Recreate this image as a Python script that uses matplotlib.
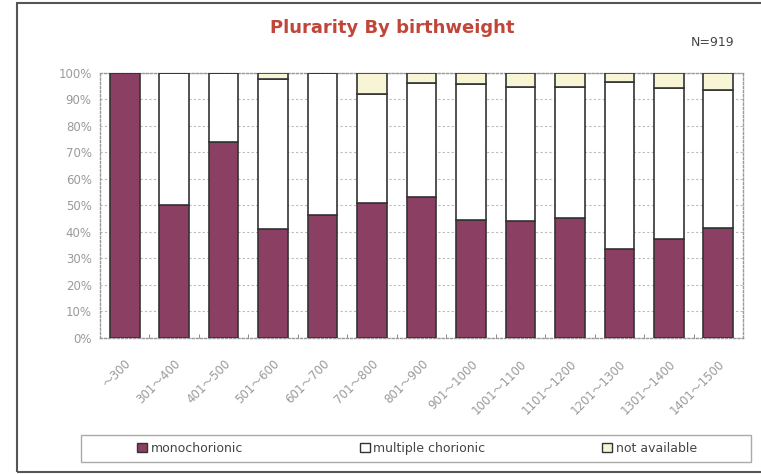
import matplotlib
matplotlib.use('Agg')
import matplotlib.pyplot as plt
from matplotlib.patches import Rectangle, Patch
import numpy as np

plt.rcParams['font.family'] = ['DejaVu Sans', 'Noto Sans CJK JP']

# Catégories de poids de naissance
categories = ['〜300', '301〜400', '401〜500', '501〜600', '601〜700', '701〜800',
              '801〜900', '901〜1000', '1001〜1100', '1101〜1200', '1201〜1300',
              '1301〜1400', '1401〜1500']

# Pourcentages
monochorionic = [100, 50, 73.7, 41, 46.4, 50.8, 53.1, 44.5, 44.2, 45.3, 33.6, 37.1, 41.4]
multiple_chorionic = [0, 50, 26.3, 56.6, 53.6, 41.0, 42.9, 51.1, 50.5, 49.1, 63.0, 57.0, 52.1]
not_available = [0, 0, 0, 2.4, 0, 8.2, 4.0, 4.4, 5.3, 5.6, 3.4, 5.9, 6.5]

mono_color = '#8a3f63'
multi_color = '#ffffff'
na_color = '#f7f5d6'
edge = '#333333'
gray = '#9a9a9a'

fig = plt.figure(figsize=(7.61, 4.74), dpi=100)
ax = fig.add_axes([100 / 761, 136 / 474, 643 / 761, 265.5 / 474])

x = np.arange(len(categories))
mono = np.array(monochorionic)
multi = np.array(multiple_chorionic)
na = np.array(not_available)

ax.bar(x, mono, width=0.6, color=mono_color, edgecolor=edge, linewidth=1.2, zorder=3)
ax.bar(x, multi, width=0.6, bottom=mono, color=multi_color, edgecolor=edge, linewidth=1.2, zorder=3)
ax.bar(x, na, width=0.6, bottom=mono + multi, color=na_color, edgecolor=edge, linewidth=1.2, zorder=3)

ax.set_xlim(-0.5, len(categories) - 0.5)
ax.set_ylim(0, 100)
ax.set_yticks(np.arange(0, 101, 10))
ax.set_yticklabels([f'{v}%' for v in range(0, 101, 10)], color=gray, fontsize=8.5)
ax.yaxis.grid(True, linestyle=(0, (2, 2)), color='#bbbbbb', linewidth=0.8, zorder=0)
ax.tick_params(axis='y', length=0, pad=6)

ax.set_xticks(x)
ax.set_xticklabels(categories, rotation=45, ha='right', rotation_mode='anchor',
                   color=gray, fontsize=8.5)
ax.tick_params(axis='x', length=0, pad=14)
ax.set_xticks(np.arange(0.5, len(categories) - 0.5), minor=True)
ax.tick_params(axis='x', which='minor', direction='in', length=3, color='#777777')

for s in ax.spines.values():
    s.set_linestyle((0, (1.5, 1.5)))
    s.set_color('#999999')
    s.set_linewidth(1)

fig.text(392 / 761, 1 - 28 / 474, 'Plurarity By birthweight', ha='center', va='center',
         fontsize=13, fontweight='bold', color='#c0463a')
fig.text(713 / 761, 1 - 43 / 474, 'N=919', ha='center', va='center', fontsize=9, color='#444444')

# Cadre autour du graphique
fig.patches.append(Rectangle((17 / 761, 2 / 474), 760 / 761, 469 / 474, transform=fig.transFigure,
                             fill=False, edgecolor='#555555', linewidth=1.5))

# Cadre de la légende
fig.patches.append(Rectangle((81 / 761, 12 / 474), 670 / 761, 27 / 474, transform=fig.transFigure,
                             fill=False, edgecolor='#aaaaaa', linewidth=1))

handles = [Patch(facecolor=mono_color, edgecolor=edge, label='monochorionic'),
           Patch(facecolor=multi_color, edgecolor=edge, label='multiple chorionic'),
           Patch(facecolor=na_color, edgecolor=edge, label='not available')]
leg = fig.legend(handles=handles, loc='center', ncol=3,
                 bbox_to_anchor=(417 / 761, 25.5 / 474),
                 fontsize=9, frameon=False, handlelength=0.8, columnspacing=9.3,
                 handleheight=0.8, handletextpad=0.3, borderaxespad=0)
for t in leg.get_texts():
    t.set_color('#444444')

fig.savefig('out.png', dpi=100)
